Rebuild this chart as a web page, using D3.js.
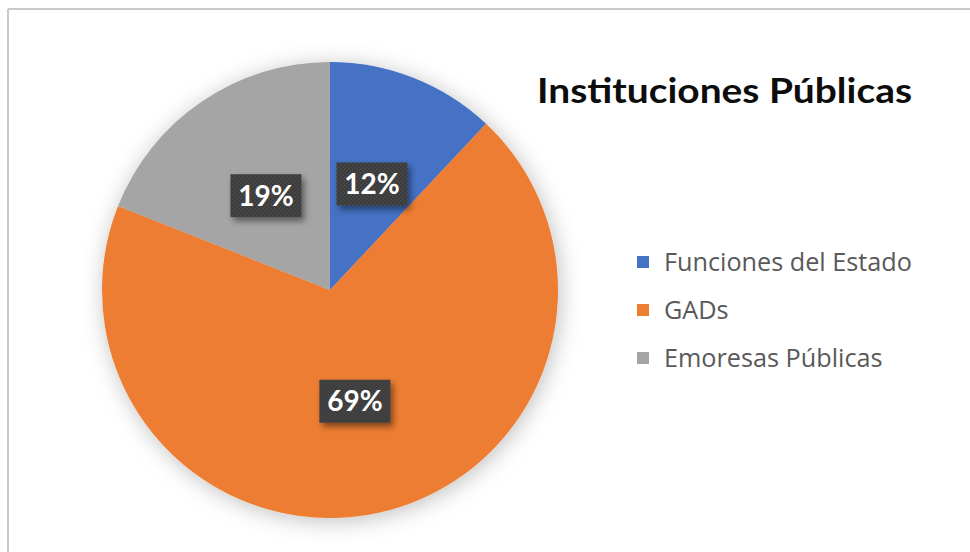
<!DOCTYPE html>
<html>
<head>
<meta charset="utf-8">
<script src="https://cdn.jsdelivr.net/npm/d3@7"></script>
<style>
  html, body { margin: 0; padding: 0; background: #ffffff; }
  svg { display: block; }
</style>
</head>
<body>
<svg id="chart" width="970" height="552"></svg>
<script>
// Share of public institutions by type
const categories = ["Funciones del Estado", "GADs", "Emoresas Públicas"];
const values = [12, 69, 19];
const colors = ["#4472C4", "#ED7D31", "#A5A5A5"];
const title = "Instituciones Públicas";

const svg = d3.select("#chart");
const W = 970, H = 552;
const cx = 330, cy = 290, R = 228;

const defs = svg.append("defs");
// soft halo behind the pie
const halo = defs.append("filter").attr("id", "halo")
  .attr("x", "-30%").attr("y", "-30%").attr("width", "160%").attr("height", "160%");
halo.append("feDropShadow").attr("dx", 2).attr("dy", 3)
  .attr("stdDeviation", 11).attr("flood-color", "#000").attr("flood-opacity", 0.25);

// shadow under the value boxes
const boxShadow = defs.append("filter").attr("id", "boxShadow")
  .attr("x", "-30%").attr("y", "-30%").attr("width", "160%").attr("height", "180%");
boxShadow.append("feDropShadow").attr("dx", 3).attr("dy", 4)
  .attr("stdDeviation", 3).attr("flood-color", "#000").attr("flood-opacity", 0.45);

// fine dotted texture of the value boxes
const dots = defs.append("pattern").attr("id", "dots")
  .attr("width", 4).attr("height", 4).attr("patternUnits", "userSpaceOnUse");
dots.append("rect").attr("width", 4).attr("height", 4).attr("fill", "#3b3b3b");
dots.append("circle").attr("cx", 1).attr("cy", 1).attr("r", 0.9).attr("fill", "#4a4a4a");
dots.append("circle").attr("cx", 3).attr("cy", 3).attr("r", 0.9).attr("fill", "#4a4a4a");

// frame (top and left edges)
svg.append("line").attr("x1", 8).attr("y1", 9).attr("x2", W).attr("y2", 9)
  .attr("stroke", "#c9c9c9").attr("stroke-width", 2);
svg.append("line").attr("x1", 8).attr("y1", 9).attr("x2", 8).attr("y2", H)
  .attr("stroke", "#c9c9c9").attr("stroke-width", 2);

const data = categories.map((c, i) => ({ name: c, value: values[i], color: colors[i] }));
const pie = d3.pie().value(d => d.value).sort(null);
const arc = d3.arc().innerRadius(0).outerRadius(R);
const arcs = pie(data);

const g = svg.append("g").attr("transform", `translate(${cx},${cy})`);
const slices = g.append("g").attr("filter", "url(#halo)");
slices.selectAll("path").data(arcs).enter().append("path")
  .attr("d", arc)
  .attr("fill", d => d.data.color);

// value labels in dark boxes at the slice centroids
const labelFont = "Lato, 'Open Sans', sans-serif";
const bw = 71, bh = 43;
const labels = g.append("g").selectAll("g").data(arcs).enter().append("g")
  .attr("transform", d => {
    const [x, y] = arc.centroid(d);
    return `translate(${x},${y})`;
  });
labels.append("rect")
  .attr("x", -bw / 2).attr("y", -bh / 2).attr("width", bw).attr("height", bh)
  .attr("fill", "url(#dots)")
  .attr("filter", "url(#boxShadow)");
labels.append("text")
  .attr("text-anchor", "middle").attr("dy", "0.36em")
  .attr("fill", "#ffffff").attr("font-family", labelFont)
  .attr("font-weight", "bold").attr("font-size", 28)
  .text(d => d.data.value + "%");

// title
svg.append("text")
  .attr("x", 537).attr("y", 103)
  .attr("font-family", labelFont).attr("font-weight", "bold")
  .attr("font-size", 34).attr("fill", "#0d0d0d")
  .attr("textLength", 375).attr("lengthAdjust", "spacingAndGlyphs")
  .text(title);

// legend
const legendFont = "'Open Sans', Lato, sans-serif";
const legend = svg.append("g").attr("transform", "translate(637,262)");
const item = legend.selectAll("g").data(data).enter().append("g")
  .attr("transform", (d, i) => `translate(0,${i * 48})`);
item.append("rect").attr("x", 0).attr("y", -6).attr("width", 12).attr("height", 12)
  .attr("fill", d => d.color);
const legendText = item.append("text").attr("x", 27).attr("dy", "0.35em")
  .attr("font-family", legendFont).attr("font-size", 20).attr("fill", "#595959")
  .text(d => d.name);
// size the legend font so the longest entry spans to the title's right edge
const widest = d3.max(legendText.nodes(), n => n.getComputedTextLength());
const legendSize = 20 * (912 - 664) / widest;
legendText.attr("font-size", legendSize);
</script>
</body>
</html>
